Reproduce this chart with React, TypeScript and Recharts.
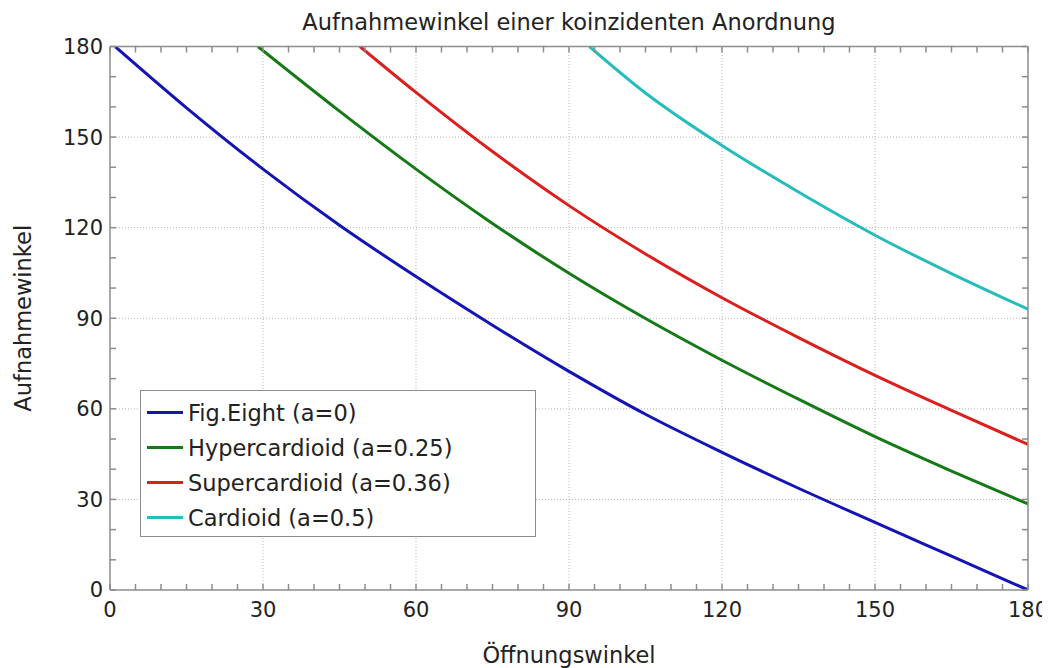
import { LineChart, Line, XAxis, YAxis, ReferenceLine, Legend, Label } from "recharts";

// Öffnungswinkel (x) / Aufnahmewinkel (y)
const FIG8_X = [1, 15, 30, 45, 60, 75, 90, 105, 120, 135, 150, 165, 180];
const FIG8_Y = [180, 159.7, 139.4, 120.8, 103.8, 87.7, 72.4, 58.2, 45.6, 33.7, 22.4, 11.2, 0];

const HYPER_X = [29, 45, 60, 75, 90, 105, 120, 135, 150, 165, 180];
const HYPER_Y = [180, 158.6, 139.4, 121.4, 104.9, 89.9, 76.1, 63.2, 50.8, 39.4, 28.5];

const SUPER_X = [49, 60, 75, 90, 105, 120, 135, 150, 165, 180];
const SUPER_Y = [180, 164.8, 145.2, 127.3, 111.3, 96.8, 83.6, 71.1, 59.5, 48.2];

const CARD_X = [94, 105, 120, 135, 150, 165, 180];
const CARD_Y = [180, 164.6, 147.2, 131.8, 117.5, 104.8, 93];

const X_TICKS = [
  0, 5, 10, 15, 20, 25, 30, 35, 40, 45, 50, 55, 60, 65, 70, 75, 80, 85, 90,
  95, 100, 105, 110, 115, 120, 125, 130, 135, 140, 145, 150, 155, 160, 165,
  170, 175, 180,
];
const Y_TICKS = [0, 10, 20, 30, 40, 50, 60, 70, 80, 90, 100, 110, 120, 130, 140, 150, 160, 170, 180];
const GRID_VALUES = [30, 60, 90, 120, 150];

const FONT = "'DejaVu Sans', Verdana, sans-serif";
const TEXT = "#222";
const FRAME = "#8c8c8c";

const toPoints = (xs: number[], ys: number[]) => xs.map((x, i) => ({ x, y: ys[i] }));

const SERIES = [
  { name: "Fig.Eight (a=0)", color: "#1414b4", data: toPoints(FIG8_X, FIG8_Y) },
  { name: "Hypercardioid (a=0.25)", color: "#157a15", data: toPoints(HYPER_X, HYPER_Y) },
  { name: "Supercardioid (a=0.36)", color: "#dc1e1e", data: toPoints(SUPER_X, SUPER_Y) },
  { name: "Cardioid (a=0.5)", color: "#26bcbc", data: toPoints(CARD_X, CARD_Y) },
];

const majorLabel = (v: number) => (v % 30 === 0 ? String(v) : "");
const noLabel = () => "";

// keeps the series order of the original legend
function LegendBox() {
  return (
    <div
      style={{
        boxSizing: "border-box",
        width: 396,
        height: 147,
        border: `1.5px solid ${FRAME}`,
        background: "#fff",
        padding: "4px 0 0 6px",
        fontFamily: FONT,
        fontSize: 22.5,
        color: TEXT,
      }}
    >
      {SERIES.map((s) => (
        <div key={s.name} style={{ display: "flex", alignItems: "center", height: 35 }}>
          <span style={{ display: "inline-block", width: 36, height: 3, background: s.color, marginRight: 5 }} />
          <span>{s.name}</span>
        </div>
      ))}
    </div>
  );
}

export default function App() {
  const tickStyle = { fill: TEXT, fontSize: 21, fontFamily: FONT };
  const labelStyle = { fill: TEXT, fontSize: 22.5, fontFamily: FONT };

  return (
    <LineChart width={1042} height={660} margin={{ top: 37.5, right: 21, bottom: 48, left: 2 }}>
      <XAxis
        xAxisId="b"
        dataKey="x"
        type="number"
        domain={[0, 180]}
        allowDataOverflow
        ticks={X_TICKS}
        interval={0}
        tickFormatter={majorLabel}
        tickSize={-6}
        tickMargin={18}
        height={30}
        stroke={FRAME}
        strokeWidth={1.5}
        tick={tickStyle}
      >
        <Label value="Öffnungswinkel" position="bottom" offset={27} style={labelStyle} />
      </XAxis>
      <XAxis
        xAxisId="t"
        orientation="top"
        dataKey="x"
        type="number"
        domain={[0, 180]}
        allowDataOverflow
        ticks={X_TICKS}
        interval={0}
        tickFormatter={noLabel}
        tickSize={-6}
        height={1}
        stroke={FRAME}
        strokeWidth={1.5}
      >
        <Label value="Aufnahmewinkel einer koinzidenten Anordnung" position="top" offset={15.5} style={labelStyle} />
      </XAxis>
      <YAxis
        yAxisId="l"
        type="number"
        domain={[0, 180]}
        allowDataOverflow
        ticks={Y_TICKS}
        interval={0}
        tickFormatter={majorLabel}
        tickSize={-6}
        tickMargin={13}
        width={100}
        stroke={FRAME}
        strokeWidth={1.5}
        tick={tickStyle}
      >
        <Label
          value="Aufnahmewinkel"
          angle={-90}
          position="insideLeft"
          offset={13}
          style={{ ...labelStyle, textAnchor: "middle" }}
        />
      </YAxis>
      <YAxis
        yAxisId="r"
        orientation="right"
        type="number"
        domain={[0, 180]}
        allowDataOverflow
        ticks={Y_TICKS}
        interval={0}
        tickFormatter={noLabel}
        tickSize={-6}
        width={1}
        stroke={FRAME}
        strokeWidth={1.5}
      />

      {GRID_VALUES.map((v) => (
        <ReferenceLine key={`gx${v}`} xAxisId="b" yAxisId="l" x={v} stroke="#b4b4b4" strokeDasharray="1 2" />
      ))}
      {GRID_VALUES.map((v) => (
        <ReferenceLine key={`gy${v}`} xAxisId="b" yAxisId="l" y={v} stroke="#b4b4b4" strokeDasharray="1 2" />
      ))}

      {SERIES.map((s) => (
        <Line
          key={s.name}
          xAxisId="b"
          yAxisId="l"
          data={s.data}
          dataKey="y"
          name={s.name}
          type="monotone"
          stroke={s.color}
          strokeWidth={3}
          dot={false}
          activeDot={false}
          isAnimationActive={false}
        />
      ))}

      <Legend
        layout="vertical"
        align="center"
        verticalAlign="middle"
        wrapperStyle={{ left: 132, top: 382, width: 396 }}
        content={LegendBox}
      />
    </LineChart>
  );
}
